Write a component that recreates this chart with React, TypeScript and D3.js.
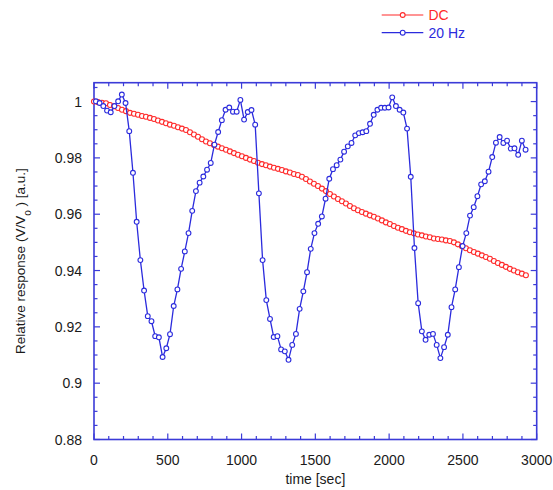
import React from "react";
import * as d3 from "d3";

// DC series, sampled every ~27 s starting at t = 0
const dcStart = 0;
const dcStep = 27.1;
const dcValues = [
  1.0, 0.9998, 0.9996, 0.9994, 0.9988, 0.9983, 0.9977, 0.9971, 0.9966, 0.996,
  0.9957, 0.9953, 0.9949, 0.9946, 0.9942, 0.9938, 0.9933, 0.9928, 0.9923, 0.9918,
  0.9914, 0.9909, 0.9904, 0.9899, 0.9891, 0.9883, 0.9875, 0.9866, 0.9858, 0.9852,
  0.9846, 0.984, 0.9834, 0.9829, 0.9823, 0.9817, 0.9811, 0.9806, 0.98, 0.9794,
  0.9789, 0.9783, 0.9778, 0.9774, 0.9769, 0.9765, 0.9761, 0.9757, 0.9752, 0.9748,
  0.9743, 0.9739, 0.9733, 0.9725, 0.9716, 0.9708, 0.97, 0.9691, 0.9682, 0.9672,
  0.9663, 0.9654, 0.9646, 0.9638, 0.9629, 0.9621, 0.9614, 0.9608, 0.9602, 0.9596,
  0.9591, 0.9585, 0.9578, 0.9571, 0.9565, 0.9558, 0.9552, 0.9547, 0.9541, 0.9536,
  0.9532, 0.9528, 0.9525, 0.9521, 0.9518, 0.9514, 0.9512, 0.951, 0.9507, 0.9505,
  0.95, 0.9493, 0.9486, 0.9479, 0.9472, 0.9466, 0.946, 0.9454, 0.9448, 0.9442,
  0.9434, 0.9427, 0.942, 0.9413, 0.9406, 0.94, 0.9394, 0.9389, 0.9383,
];

// 20 Hz series, sampled every ~25 s
const hzStart = 13;
const hzStep = 25.1;
const hzValues = [
  1.0001, 0.9995, 0.9984, 0.9968, 0.9962, 0.9984, 1.0001, 1.0025, 0.9995, 0.9895,
  0.9747, 0.9573, 0.9437, 0.9329, 0.9238, 0.922, 0.9167, 0.9163, 0.9093, 0.9124,
  0.9174, 0.9274, 0.9333, 0.9406, 0.9468, 0.9533, 0.9612, 0.9682, 0.9712, 0.9734,
  0.9758, 0.9782, 0.9847, 0.9892, 0.9934, 0.9971, 0.9979, 0.9964, 0.9964, 1.0006,
  0.9936, 0.9963, 0.997, 0.9918, 0.9674, 0.9437, 0.9295, 0.9228, 0.9164, 0.9167,
  0.912, 0.9113, 0.9083, 0.9136, 0.9175, 0.9264, 0.9326, 0.9394, 0.9477, 0.9533,
  0.9566, 0.9592, 0.9655, 0.9726, 0.976, 0.9774, 0.9794, 0.9822, 0.9841, 0.9853,
  0.988, 0.9888, 0.9891, 0.9895, 0.9921, 0.9953, 0.9971, 0.9978, 0.9978, 0.9979,
  1.0015, 0.9984, 0.9971, 0.9961, 0.9904, 0.9733, 0.948, 0.9284, 0.9184, 0.9154,
  0.9172, 0.9175, 0.9136, 0.9089, 0.9128, 0.9172, 0.927, 0.9333, 0.9412, 0.9487,
  0.9533, 0.9595, 0.9625, 0.9664, 0.9706, 0.9717, 0.9751, 0.9803, 0.9854, 0.9874,
  0.9853, 0.9861, 0.9833, 0.9834, 0.9811, 0.9861, 0.9829,
];

const xTickLabels = ["0", "500", "1000", "1500", "2000", "2500", "3000"];
const yTickLabels = ["0.88", "0.9", "0.92", "0.94", "0.96", "0.98", "1"];

const seriesNames = ["DC", "20 Hz"];
const seriesColors = ["#ff2a2a", "#2b2bdd"];

const W = 553;
const H = 490;
const FONT = "Arial, 'Liberation Sans', sans-serif";
const AXIS = "#3b3bd8";

export default function App() {
  const x = d3.scaleLinear().domain([0, 3000]).range([94, 536.7]);
  const y = d3.scaleLinear().domain([0.88, 1.0067]).range([439.5, 82.7]);

  const dc = dcValues.map((v, i) => [dcStart + i * dcStep, v] as [number, number]);
  const hz = hzValues.map((v, i) => [hzStart + i * hzStep, v] as [number, number]);

  const line = d3
    .line<[number, number]>()
    .x((d) => x(d[0]))
    .y((d) => y(d[1]));

  const [x0, x1] = x.range();
  const [y0, y1] = y.range();

  const xMajor = xTickLabels.map((t) => +t);
  const xMinor = d3.range(0, 3001, 100).filter((t) => t % 500 !== 0);
  const yMajor = yTickLabels.map((t) => +t);
  const yMinor = d3.range(0, 26).map((i) => 0.88 + i * 0.005).filter((_, i) => i % 4 !== 0);

  const MAJ = 6;
  const MIN = 3.5;

  return (
    <svg
      width={W}
      height={H}
      style={{ position: "absolute", left: 0, top: 0, background: "#fff" }}
      fontFamily={FONT}
    >
      {/* ticks, all four sides, pointing in */}
      <g stroke={AXIS} strokeWidth={1.2}>
        {xMajor.map((t) => (
          <g key={"xM" + t}>
            <line x1={x(t)} x2={x(t)} y1={y0} y2={y0 - MAJ} />
            <line x1={x(t)} x2={x(t)} y1={y1} y2={y1 + MAJ} />
          </g>
        ))}
        {xMinor.map((t) => (
          <g key={"xm" + t}>
            <line x1={x(t)} x2={x(t)} y1={y0} y2={y0 - MIN} />
            <line x1={x(t)} x2={x(t)} y1={y1} y2={y1 + MIN} />
          </g>
        ))}
        {yMajor.map((t) => (
          <g key={"yM" + t}>
            <line x1={x0} x2={x0 + MAJ} y1={y(t)} y2={y(t)} />
            <line x1={x1} x2={x1 - MAJ} y1={y(t)} y2={y(t)} />
          </g>
        ))}
        {yMinor.map((t, i) => (
          <g key={"ym" + i}>
            <line x1={x0} x2={x0 + MIN} y1={y(t)} y2={y(t)} />
            <line x1={x1} x2={x1 - MIN} y1={y(t)} y2={y(t)} />
          </g>
        ))}
      </g>

      <rect
        x={x0}
        y={y1}
        width={x1 - x0}
        height={y0 - y1}
        fill="none"
        stroke={AXIS}
        strokeWidth={1.6}
      />

      {/* tick labels */}
      <g fontSize={14} fill="#1a1a1a">
        {xTickLabels.map((t) => (
          <text key={"xl" + t} x={x(+t)} y={465} textAnchor="middle">
            {t}
          </text>
        ))}
        {yTickLabels.map((t) => (
          <text key={"yl" + t} x={82} y={y(+t) + 5} textAnchor="end">
            {t}
          </text>
        ))}
      </g>

      <text x={(x0 + x1) / 2} y={484} textAnchor="middle" fontSize={14} fill="#1a1a1a">
        time [sec]
      </text>
      <text
        transform={`translate(25, ${(y0 + y1) / 2}) rotate(-90)`}
        textAnchor="middle"
        fontSize={13.5}
        fill="#1a1a1a"
      >
        Relative response (V/V
        <tspan baselineShift="sub" fontSize={10}>o</tspan>
        <tspan> ) [a.u.]</tspan>
      </text>

      {/* DC */}
      <path d={line(dc) ?? ""} fill="none" stroke={seriesColors[0]} strokeWidth={1} />
      {dc.map((d, i) => (
        <circle
          key={"dc" + i}
          cx={x(d[0])}
          cy={y(d[1])}
          r={2.5}
          fill="#fff"
          stroke={seriesColors[0]}
          strokeWidth={1.1}
        />
      ))}

      {/* 20 Hz */}
      <path d={line(hz) ?? ""} fill="none" stroke={seriesColors[1]} strokeWidth={1.3} />
      {hz.map((d, i) => (
        <circle
          key={"hz" + i}
          cx={x(d[0])}
          cy={y(d[1])}
          r={2.4}
          fill="#fff"
          stroke={seriesColors[1]}
          strokeWidth={1.1}
        />
      ))}

      {/* legend */}
      {seriesNames.map((name, i) => {
        const ly = 15 + i * 17.7;
        return (
          <g key={"lg" + name}>
            <line x1={381.7} x2={423.3} y1={ly} y2={ly} stroke={seriesColors[i]} strokeWidth={1.2} />
            <circle cx={402.7} cy={ly} r={2.4} fill="#fff" stroke={seriesColors[i]} strokeWidth={1.1} />
            <text x={428.5} y={ly + 5} fontSize={14} fill={seriesColors[i]}>
              {name}
            </text>
          </g>
        );
      })}
    </svg>
  );
}
